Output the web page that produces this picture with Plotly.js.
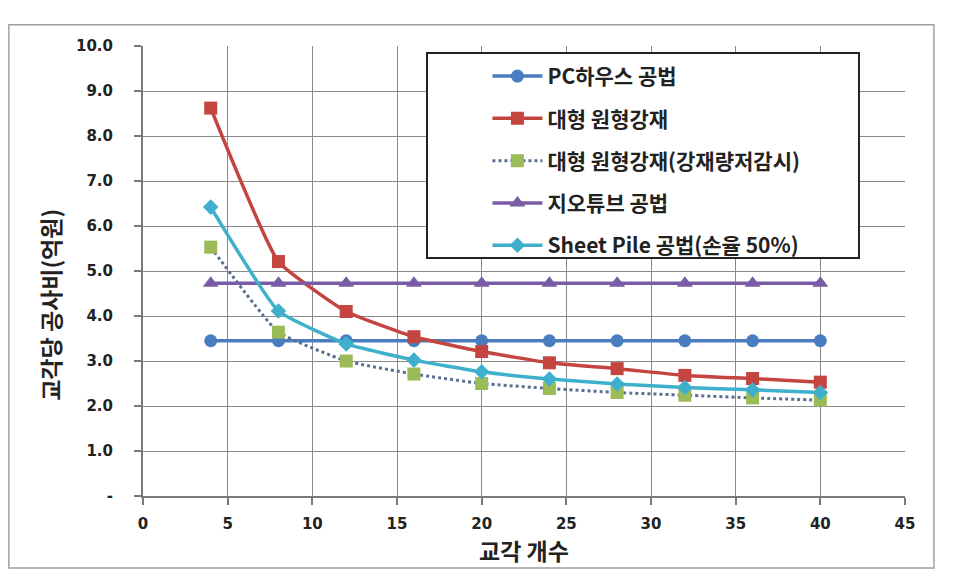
<!DOCTYPE html>
<html>
<head>
<meta charset="utf-8">
<script src="https://cdn.plot.ly/plotly-3.0.1.min.js"></script>
<style>
  html, body { margin: 0; padding: 0; background: #fff; }
  #chart { width: 971px; height: 583px; }
</style>
</head>
<body>
<div id="chart"></div>
<script>
// number of piers
const piers = [4, 8, 12, 16, 20, 24, 28, 32, 36, 40];

// cost per pier (억원)
const pcHouse = [3.45, 3.45, 3.45, 3.45, 3.45, 3.45, 3.45, 3.45, 3.45, 3.45];
const largeSteel = [8.62, 5.21, 4.1, 3.54, 3.21, 2.96, 2.83, 2.68, 2.61, 2.53];
const largeSteelReduced = [5.53, 3.64, 3.0, 2.71, 2.5, 2.39, 2.3, 2.24, 2.18, 2.13];
const geotube = [4.73, 4.73, 4.73, 4.73, 4.73, 4.73, 4.73, 4.73, 4.73, 4.73];
const sheetPile = [6.42, 4.11, 3.38, 3.02, 2.76, 2.6, 2.49, 2.41, 2.36, 2.3];

const names = [
  "PC하우스 공법",
  "대형 원형강재",
  "대형 원형강재(강재량저감시)",
  "지오튜브 공법",
  "Sheet Pile 공법(손율 50%)"
];

const yTickVals = [0, 1, 2, 3, 4, 5, 6, 7, 8, 9, 10];
const yTickText = ["-", "1.0", "2.0", "3.0", "4.0", "5.0", "6.0", "7.0", "8.0", "9.0", "10.0"];
const xTickVals = [0, 5, 10, 15, 20, 25, 30, 35, 40, 45];

const bold = { family: "DejaVu Sans, sans-serif", size: 15, color: "#222", weight: "bold" };
const krFont = { family: "Noto Sans CJK KR, sans-serif", size: 23, color: "#222", weight: "bold" };

const trace1 = {
  x: piers, y: pcHouse, name: names[0], legendgroup: "a",
  mode: "lines+markers",
  line: { color: "#4A7CC0", width: 3.5 },
  marker: { symbol: "circle", size: 13, color: "#4A7CC0" }
};
const trace2 = {
  x: piers, y: largeSteel, name: names[1], legendgroup: "b",
  mode: "lines+markers",
  line: { color: "#C4443F", width: 3.5, shape: "spline", smoothing: 0.4 },
  marker: { symbol: "square", size: 13, color: "#C4443F" }
};
const trace3 = {
  x: piers, y: largeSteelReduced, name: names[2], legendgroup: "c",
  mode: "lines+markers",
  line: { color: "#5A7090", width: 3, dash: "dot", shape: "spline", smoothing: 0.4 },
  marker: { symbol: "square", size: 13, color: "#9BBB59" }
};
const trace4 = {
  x: piers, y: geotube, name: names[3], legendgroup: "d",
  mode: "lines+markers",
  line: { color: "#7A5CA6", width: 3.5 },
  marker: { symbol: "triangle-up", size: 14, color: "#7A5CA6" }
};
const trace5 = {
  x: piers, y: sheetPile, name: names[4], legendgroup: "e",
  mode: "lines+markers",
  line: { color: "#3FB0CC", width: 3.5, shape: "spline", smoothing: 0.4 },
  marker: { symbol: "diamond", size: 12, color: "#3FB0CC" }
};

const layout = {
  width: 971,
  height: 583,
  margin: { l: 143, r: 66, t: 46, b: 87 },
  paper_bgcolor: "#fff",
  plot_bgcolor: "#fff",
  showlegend: true,
  legend: {
    x: 0.452, y: 0.978, xanchor: "left", yanchor: "top",
    bgcolor: "rgba(0,0,0,0)",
    font: { family: "Noto Sans CJK KR, sans-serif", size: 21, color: "#222", weight: "bold" },
    traceorder: "grouped",
    tracegroupgap: 12,
    itemwidth: 50
  },
  xaxis: {
    range: [0, 45],
    tickvals: xTickVals,
    showgrid: true, gridcolor: "#8a8a8a", gridwidth: 1,
    showline: true, linecolor: "#7a7a7a", linewidth: 2,
    ticks: "outside", ticklen: 7, tickcolor: "#7a7a7a", tickwidth: 2,
    tickfont: bold,
    ticklabelstandoff: 6,
    zeroline: false,
    title: { text: "교각 개수", font: krFont, standoff: 4 }
  },
  yaxis: {
    range: [0, 10],
    tickvals: yTickVals,
    ticktext: yTickText,
    showgrid: true, gridcolor: "#8a8a8a", gridwidth: 1,
    showline: true, linecolor: "#7a7a7a", linewidth: 2,
    ticks: "outside", ticklen: 7, tickcolor: "#7a7a7a", tickwidth: 2,
    tickfont: bold,
    ticklabelstandoff: 18,
    zeroline: false
  },
  annotations: [{
    text: "교각당 공사비(억원)",
    xref: "paper", yref: "paper",
    x: -0.122, y: 0.425,
    xanchor: "center", yanchor: "middle",
    textangle: -90,
    showarrow: false,
    font: krFont
  }],
  shapes: [
    {
      type: "rect", xref: "paper", yref: "paper",
      x0: -0.176, x1: 1.038, y0: -0.16, y1: 1.047,
      line: { color: "#a0a0a0", width: 1.5 }, layer: "below"
    },
    {
      type: "rect", xref: "paper", yref: "paper",
      x0: 0.3727, x1: 0.9396, y0: 0.5289, y1: 0.9844,
      fillcolor: "#fff",
      line: { color: "#222", width: 2 }, layer: "above"
    }
  ]
};

Plotly.newPlot("chart", [trace1, trace2, trace3, trace4, trace5], layout, { displayModeBar: false, staticPlot: true });
</script>
</body>
</html>
